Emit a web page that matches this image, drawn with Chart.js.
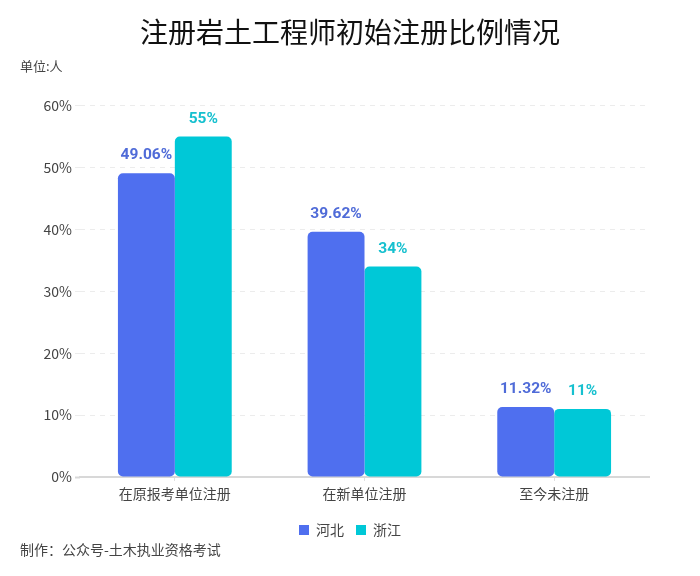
<!DOCTYPE html>
<html>
<head>
<meta charset="utf-8">
<script src="https://cdn.jsdelivr.net/npm/chart.js@4"></script>
<style>
body{margin:0;background:#fff}
canvas{display:block}
</style>
</head>
<body>
<canvas id="chart" width="700" height="576"></canvas>
<script>
const FONT = '"Noto Sans CJK SC","Noto Sans",sans-serif';
const categories = ['在原报考单位注册', '在新单位注册', '至今未注册'];
const hebei = [49.06, 39.62, 11.32];
const zhejiang = [55, 34, 11];
const hebeiLabels = ['49.06%', '39.62%', '11.32%'];
const zhejiangLabels = ['55%', '34%', '11%'];
const yTicks = [0, 10, 20, 30, 40, 50, 60];

// value labels above the bars + the two loose texts
const extras = {
  id: 'extras',
  afterDatasetsDraw(chart) {
    const c = chart.ctx;
    c.save();
    c.textAlign = 'center';
    c.textBaseline = 'alphabetic';
    c.font = 'bold 15.5px "Roboto",' + FONT;
    [[hebeiLabels, '#4f6bd8'], [zhejiangLabels, '#16c0cf']].forEach((s, i) => {
      c.fillStyle = s[1];
      chart.getDatasetMeta(i).data.forEach((bar, j) => {
        c.fillText(s[0][j], bar.x, bar.y - 14);
      });
    });
    c.textAlign = 'left';
    c.fillStyle = '#444';
    c.font = '13px ' + FONT;
    c.fillText('单位:人', 20, 71);
    c.font = '14px ' + FONT;
    c.fillText('制作：公众号-土木执业资格考试', 20, 555);
    c.restore();
  }
};

new Chart(document.getElementById('chart'), {
  type: 'bar',
  data: {
    labels: categories,
    datasets: [
      { label: '河北', data: hebei, backgroundColor: '#4f6fef', borderRadius: 5, borderSkipped: false, borderWidth: 0 },
      { label: '浙江', data: zhejiang, backgroundColor: '#00c8d7', borderRadius: 5, borderSkipped: false, borderWidth: 0 }
    ]
  },
  options: {
    responsive: false,
    animation: false,
    categoryPercentage: 0.6,
    barPercentage: 1,
    layout: { padding: { left: 0, right: 0, top: 0, bottom: 29 } },
    scales: {
      x: {
        grid: { drawOnChartArea: false, offset: false, tickLength: 4, tickColor: '#e0e0e0' },
        border: { color: '#d8d8d8', width: 2 },
        ticks: { color: '#444', font: { family: FONT, size: 14 }, padding: 4 },
        afterFit(s) { s.height = 34; }
      },
      y: {
        min: 0,
        max: 60,
        afterBuildTicks(s) { s.ticks = yTicks.map(v => ({ value: v })); },
        afterFit(s) { s.width = 80; },
        grid: {
          color: '#ececec',
          tickLength: 5,
          tickColor: ctx => (ctx.tick && ctx.tick.value === 0 ? '#d8d8d8' : '#ececec'),
          tickWidth: ctx => (ctx.tick && ctx.tick.value === 0 ? 2 : 1)
        },
        border: { display: false, dash: [5, 5] },
        ticks: {
          color: '#444',
          padding: 3,
          font: { family: FONT, size: 14 },
          callback: v => v + '%'
        }
      },
      // empty axis, only keeps the plot clear of the right edge while title and legend stay centred
      spacer: {
        type: 'linear',
        position: 'right',
        grid: { display: false },
        border: { display: false },
        ticks: { display: false },
        afterFit(s) { s.width = 51; }
      }
    },
    plugins: {
      title: {
        display: true,
        text: '注册岩土工程师初始注册比例情况',
        color: '#111',
        font: { family: FONT, size: 28, weight: 'normal' },
        padding: { top: 16, bottom: 56 }
      },
      legend: {
        position: 'bottom',
        labels: {
          color: '#444',
          font: { family: FONT, size: 14 },
          boxWidth: 10,
          boxHeight: 10,
          padding: 12
        }
      },
      tooltip: { enabled: false }
    }
  },
  plugins: [extras]
});
</script>
</body>
</html>
